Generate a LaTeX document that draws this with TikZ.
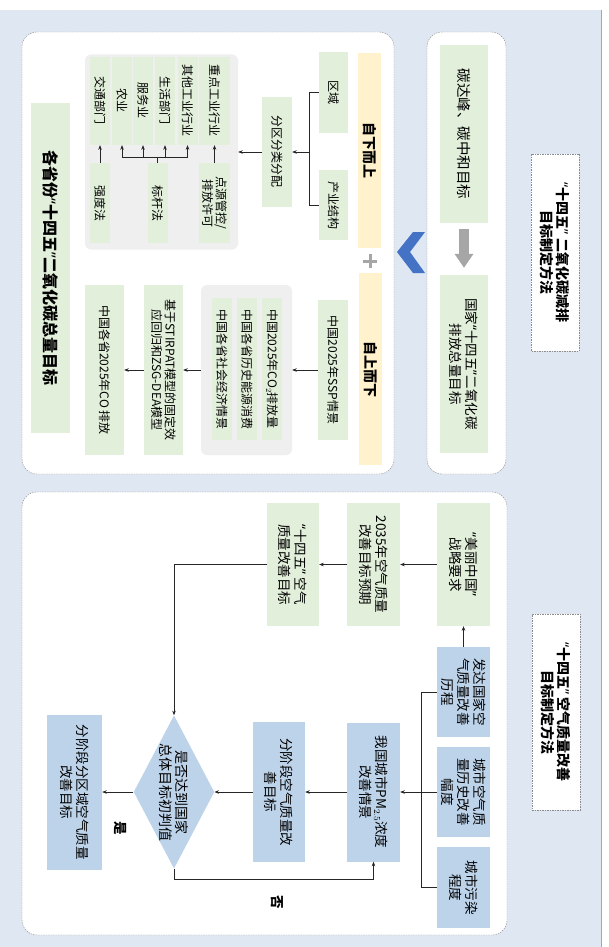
\documentclass[tikz,border=0pt]{standalone}
\usepackage{fontspec}
\setmainfont{Noto Sans CJK SC}
\newfontfamily\qfont{Noto Sans}
\newcommand\oq{{\qfont “}}
\newcommand\cq{{\qfont ”}}
\usetikzlibrary{shapes.geometric,arrows.meta}

\definecolor{bgblue}{HTML}{DEE7F2}
\definecolor{lgreen}{HTML}{E2EFDA}
\definecolor{lblue}{HTML}{BDD3EA}
\definecolor{lorange}{HTML}{FFF2CC}
\definecolor{lgray}{HTML}{EFEFEF}
\definecolor{chev}{HTML}{4472C4}
\definecolor{arrgray}{HTML}{A6A6A6}

\begin{document}
\begin{tikzpicture}[x=1pt,y=1pt,rotate=-90,transform shape,
      panel/.style={draw=black!45,dash pattern=on 1.5pt off 1pt,line width=0.4pt,fill=white,rounded corners=15pt},
      title/.style={draw=black!45,dash pattern=on 1.5pt off 1pt,line width=0.4pt,fill=white,inner sep=0pt,align=center,font=\bfseries\fontsize{14}{16.5}\selectfont},
      gbox/.style={fill=lgreen,inner sep=0pt,align=center},
      bbox/.style={fill=lblue,inner sep=0pt,align=center,font=\fontsize{13.5}{16}\selectfont},
      bar/.style={fill=lorange,inner sep=0pt,font=\bfseries\fontsize{14}{16}\selectfont},
      grp/.style={fill=lgray,rounded corners=6pt,inner sep=0pt},
      small/.style={font=\fontsize{12}{13.5}\selectfont},
      big/.style={font=\fontsize{13.5}{16}\selectfont},
      arr/.style={-{Stealth[length=4.5pt,width=3.5pt]},line width=0.6pt,draw=black!85},
      ln/.style={line width=0.6pt,draw=black!85}]

  \useasboundingbox (0,0) rectangle (947,608);
  \fill[bgblue] (10,0) rectangle (947,601);
  \draw[black!35] (10,601) -- (947,601);

  \draw[panel] (32,22) rectangle (474,394);
  \draw[panel] (32,427) rectangle (474,506);
  \draw[panel] (492,22) rectangle (935,507);

  \node[title,minimum width=197pt,minimum height=48pt] (title1) at (252.5,555) {\oq{}十四五\cq{} 二氧化碳减排\\目标制定方法};
  \node[title,minimum width=196pt,minimum height=48pt] (title2) at (712,556) {\oq{}十四五\cq{} 空气质量改善\\目标制定方法};

  \node[gbox,minimum width=178pt,minimum height=48pt,font=\fontsize{14.5}{16}\selectfont] (tanda) at (134,464) {碳达峰、碳中和目标};
  \node[gbox,minimum width=178pt,minimum height=48pt,big] (guojia) at (364,464) {国家\oq{}十四五\cq{}二氧化碳\\排放总量目标};
  \draw[arrgray,line width=10pt,-{Triangle[width=18pt,length=14pt]},shorten <=6pt,shorten >=7pt] (tanda) -- (guojia);

  \fill[chev] (252,397) -- (232,413) -- (232,425) -- (252,410) -- (273,425) -- (273,413) -- cycle;

  \node[bar,minimum width=195pt,minimum height=23pt] (zixia) at (150.5,369.5) {自下而上};
  \node[bar,minimum width=192pt,minimum height=23pt] (zishang) at (369,370.5) {自上而下};
  \draw[arrgray,line width=3pt] (254,370) -- (268,370) (261,363) -- (261,377);

  \node[gbox,small,minimum width=81pt,minimum height=29pt] (quyu) at (92.5,333.5) {区域};
  \node[gbox,small,minimum width=70pt,minimum height=29pt] (chanye) at (205,333.5) {产业结构};
  \node[gbox,small,minimum width=110pt,minimum height=30pt] (fenqu) at (152,277) {分区分类分配};

  \node[grp,minimum width=195pt,minimum height=153pt] (sectors) at (152,161.5) {};
  \node[gbox,small,minimum width=88pt,minimum height=31pt] (zhongdian) at (101,214.5) {重点工业行业};
  \node[gbox,small,minimum width=88pt,minimum height=20pt] (qita) at (101,187.5) {其他工业行业};
  \node[gbox,small,minimum width=88pt,minimum height=20pt] (shenghuo) at (101,165) {生活部门};
  \node[gbox,small,minimum width=88pt,minimum height=20pt] (fuwu) at (101,143) {服务业};
  \node[gbox,small,minimum width=88pt,minimum height=20pt] (nongye) at (101,122) {农业};
  \node[gbox,small,minimum width=88pt,minimum height=20pt] (jiaotong) at (101,100) {交通部门};
  \node[gbox,small,minimum width=80pt,minimum height=31pt] (dianyuan) at (203,214.5) {点源管控/\\排放许可};
  \node[gbox,small,minimum width=80pt,minimum height=20pt] (biaogan) at (203,157.5) {标杆法};
  \node[gbox,small,minimum width=80pt,minimum height=20pt] (qiangdu) at (203,100) {强度法};

  \node[gbox,small,minimum width=140pt,minimum height=30pt] (ssp) at (370,333) {中国2025年SSP情景};
  \node[grp,minimum width=170pt,minimum height=91pt] (inputs) at (370,246.5) {};
  \node[gbox,small,minimum width=142pt,minimum height=20pt] (co2) at (369,272) {中国2025年CO$_2$排放量};
  \node[gbox,small,minimum width=142pt,minimum height=20pt] (lishi) at (369,247) {中国各省历史能源消费};
  \node[gbox,small,minimum width=142pt,minimum height=20pt] (shehui) at (369,222) {中国各省社会经济情景};
  \node[gbox,small,minimum width=170pt,minimum height=39pt] (stirpat) at (370,163.5) {基于STIRPAT模型的固定效\\应回归和ZSG-DEA模型};
  \node[gbox,small,minimum width=170pt,minimum height=39pt] (shengco) at (370,104.5) {中国各省2025年CO 排放};
  \node[gbox,minimum width=330pt,minimum height=39pt,font=\bfseries\fontsize{16}{18}\selectfont] (gesheng) at (268,50.5) {各省份\oq{}十四五\cq{}二氧化碳总量目标};

  \draw[ln] (quyu.south) -- ++(0,-10) -| (chanye.south);
  \coordinate (brk) at (152,309);
  \draw[arr] (brk) -- (fenqu);
  \draw[arr] (fenqu) -- (sectors);
  \draw[arr] (dianyuan) -- (zhongdian);
  \draw[arr] (qiangdu) -- (jiaotong);
  \draw[ln] (biaogan.west) -- ++(-6,0) coordinate (fork);
  \draw[ln] (fork |- nongye.east) -- (fork |- qita.east);
  \foreach \s in {qita,shenghuo,fuwu,nongye}
    \draw[arr] (fork |- \s.east) -- (\s.east);
  \draw[arr] (ssp) -- (inputs);
  \draw[arr] (inputs) -- (stirpat);
  \draw[arr] (stirpat) -- (shengco);

  \node[gbox,big,minimum width=123pt,minimum height=53pt] (meili) at (564.5,463.5) {\oq{}美丽中国\cq{}\\战略要求};
  \node[gbox,big,minimum width=123pt,minimum height=53pt] (y2035) at (564.5,373.5) {2035年空气质量\\改善目标预期};
  \node[gbox,big,minimum width=123pt,minimum height=52pt] (shisiwu) at (564.5,293) {\oq{}十四五\cq{} 空气\\质量改善目标};
  \node[bbox,minimum width=90pt,minimum height=53pt] (fada) at (692,463.5) {发达国家空\\气质量改善\\历程};
  \node[bbox,minimum width=90pt,minimum height=53pt] (chengshi) at (792,463.5) {城市空气质\\量历史改善\\幅度};
  \node[bbox,minimum width=81pt,minimum height=53pt] (wuran) at (887.5,463.5) {城市污染\\程度};
  \node[bbox,minimum width=139pt,minimum height=53pt] (pm) at (792,373.5) {我国城市PM$_{2.5}$浓度\\改善情景};
  \node[bbox,minimum width=140pt,minimum height=52pt] (fenjd) at (792,279) {分阶段空气质量改\\善目标};
  \node[bbox,diamond,shape aspect=1.9,minimum width=150pt,minimum height=78pt,font=\fontsize{14}{16}\selectfont] (panduan) at (792,174) {是否达到国家\\总体目标初判值};
  \node[bbox,minimum width=155pt,minimum height=55pt] (fenqu2) at (792,74.5) {分阶段分区域空气质量\\改善目标};
  \node[font=\bfseries\fontsize{13.5}{16}\selectfont] (shi) at (828,120) {是};
  \node[font=\bfseries\fontsize{13.5}{16}\selectfont] (fou) at (902,277) {否};

  \draw[arr] (meili) -- (y2035);
  \draw[arr] (y2035) -- (shisiwu);
  \draw[arr] (fada) -- (meili);
  \draw[arr] (shisiwu.south) |- (panduan.west);
  \draw[ln] (fada.south) -- ++(0,-16) -| (wuran.south);
  \draw[arr] (chengshi) -- (pm);
  \draw[arr] (pm) -- (fenjd);
  \draw[arr] (fenjd) -- (panduan);
  \draw[arr] (panduan) -- (fenqu2);
  \draw[arr] (panduan.east) -- ++(10,0) |- (pm.east);

\end{tikzpicture}
\end{document}
